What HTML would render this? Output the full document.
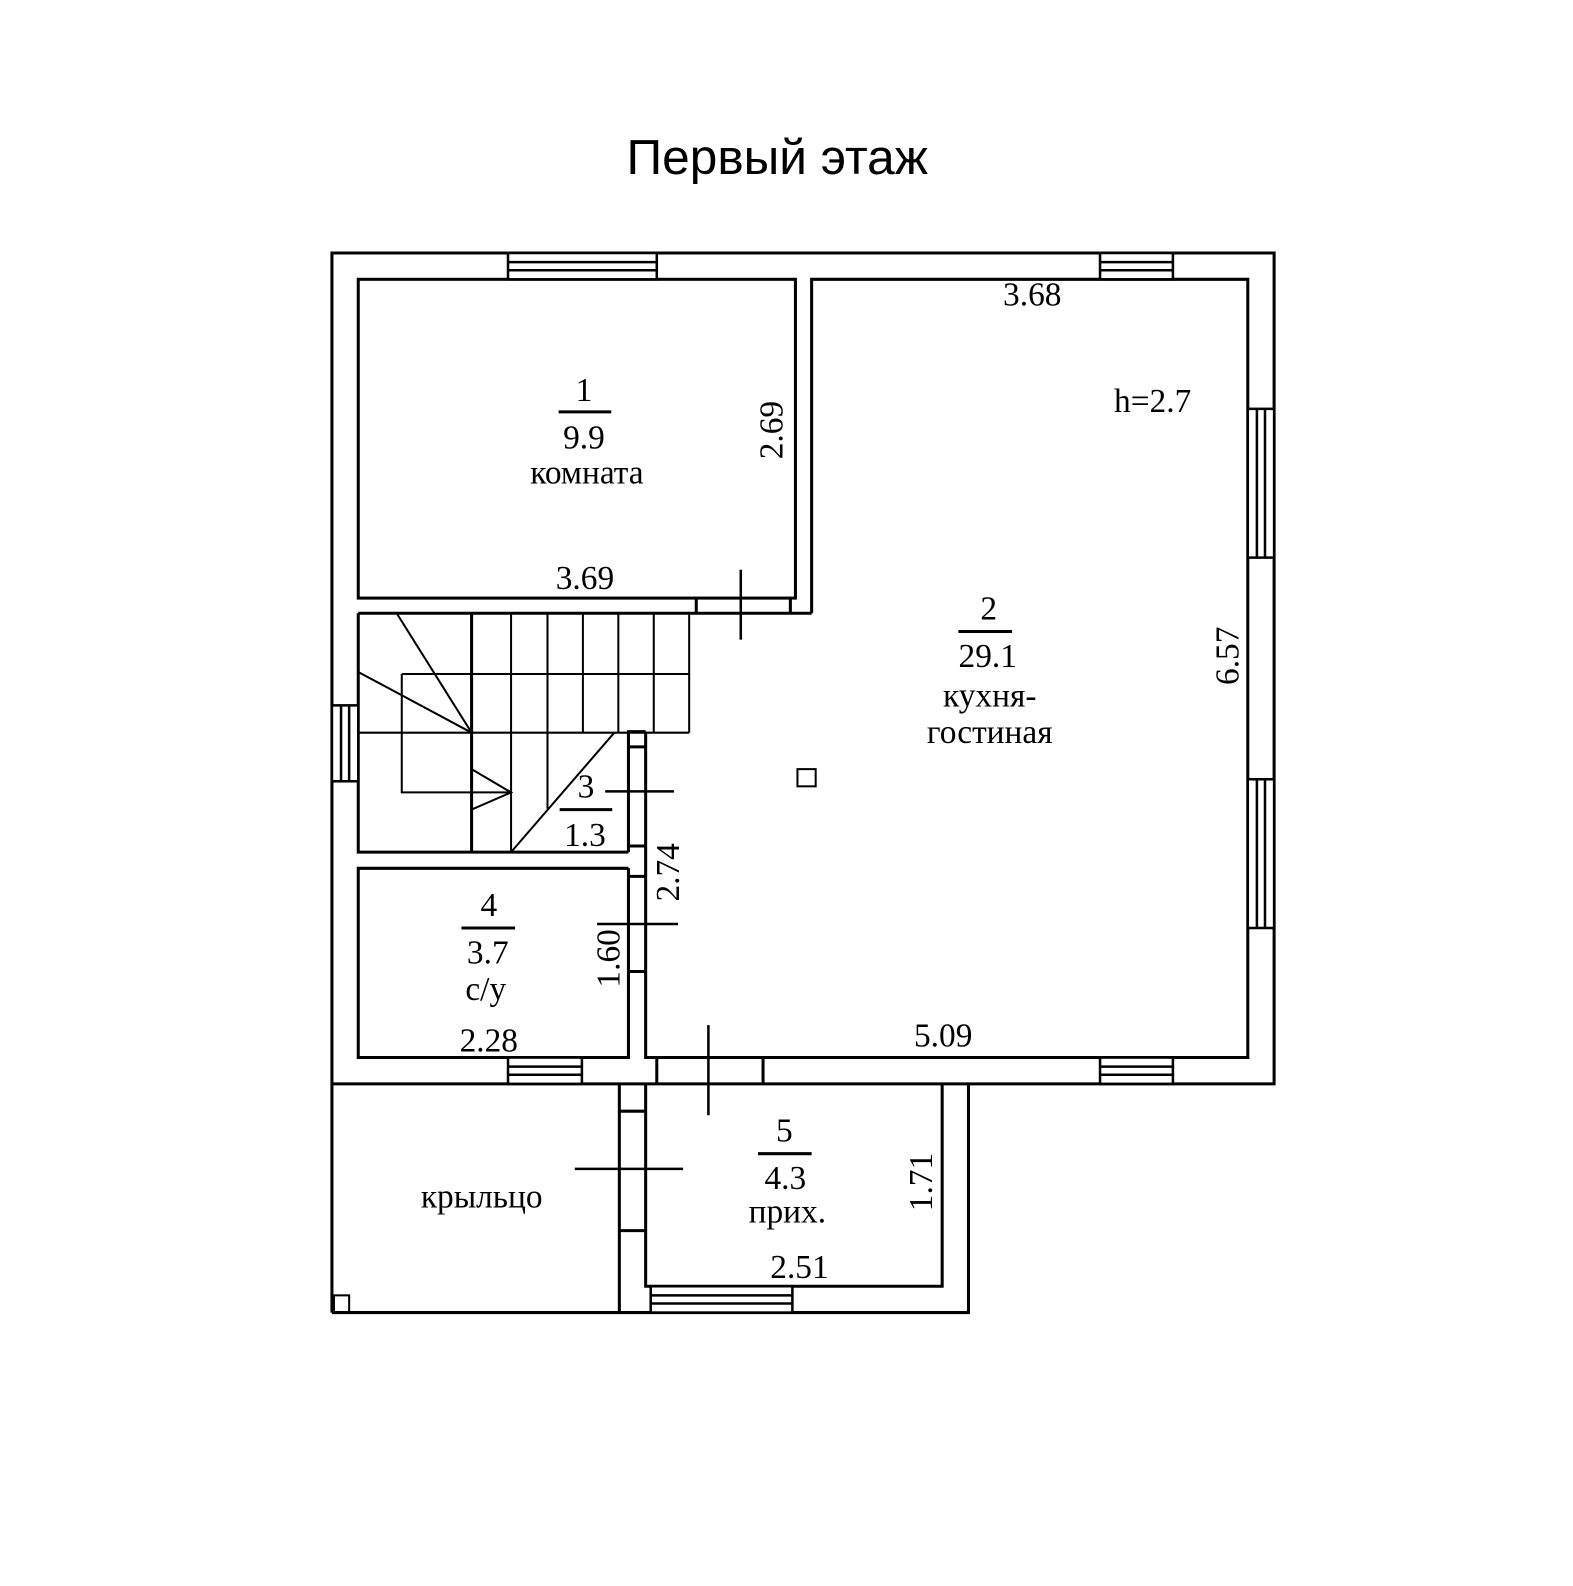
<!DOCTYPE html>
<html><head><meta charset="utf-8"><style>body{margin:0;background:#fff}</style></head><body>
<svg width="1573" height="1581" viewBox="0 0 1573 1581" xmlns="http://www.w3.org/2000/svg">
<rect width="1573" height="1581" fill="#fff"/>
<g transform="scale(1.012)">
<text x="768" y="172" font-family="Liberation Sans, sans-serif" font-size="49" text-anchor="middle">Первый этаж</text>
<g stroke="#000" stroke-width="3" fill="none">
<polyline points="328,1297 328,250 1259,250 1259,1071 957,1071 957,1297 328,1297"/>
<line x1="328" y1="1071" x2="957" y2="1071"/>
<rect x="354" y="276" width="432" height="315"/>
<polyline points="802,606 802,276 1233,276 1233,1045 638,1045 638,723"/>
<line x1="354" y1="606" x2="802" y2="606"/>
<line x1="688" y1="591" x2="688" y2="606"/>
<line x1="781" y1="591" x2="781" y2="606"/>
<polyline points="354,606 354,842 621,842"/>
<polyline points="621,842 621,723 638,723"/>
<line x1="621" y1="738" x2="638" y2="738"/>
<line x1="621" y1="836" x2="638" y2="836"/>
<polyline points="621,858 354,858 354,1045 621,1045 621,858"/>
<line x1="621" y1="866" x2="638" y2="866"/>
<line x1="621" y1="960" x2="638" y2="960"/>
<line x1="649" y1="1045" x2="649" y2="1071"/>
<line x1="754" y1="1045" x2="754" y2="1071"/>
<polyline points="638,1071 638,1271 931,1271 931,1071"/>
<line x1="612" y1="1071" x2="612" y2="1297"/>
<line x1="612" y1="1098" x2="638" y2="1098"/>
<line x1="612" y1="1216" x2="638" y2="1216"/>
<rect x="330" y="1280" width="15" height="17" stroke-width="2"/>
<line x1="732" y1="563" x2="732" y2="632" stroke-width="2.5"/>
<line x1="598" y1="782" x2="666" y2="782" stroke-width="2.5"/>
<line x1="590" y1="913" x2="670" y2="913" stroke-width="2.5"/>
<line x1="700" y1="1013" x2="700" y2="1102" stroke-width="2.5"/>
<line x1="568" y1="1155" x2="675" y2="1155" stroke-width="2.5"/>
<rect x="788" y="760" width="18" height="17" stroke-width="2"/>
</g>
<g stroke="#000" stroke-width="2.5" fill="#fff">
<rect x="502" y="250" width="147" height="26"/><line x1="502" y1="259" x2="649" y2="259"/><line x1="502" y1="267" x2="649" y2="267"/>
<rect x="1087" y="250" width="72" height="26"/><line x1="1087" y1="259" x2="1159" y2="259"/><line x1="1087" y1="267" x2="1159" y2="267"/>
<rect x="1233" y="404" width="26" height="147"/><line x1="1242" y1="404" x2="1242" y2="551"/><line x1="1250" y1="404" x2="1250" y2="551"/>
<rect x="1233" y="770" width="26" height="147"/><line x1="1242" y1="770" x2="1242" y2="917"/><line x1="1250" y1="770" x2="1250" y2="917"/>
<rect x="328" y="697" width="26" height="75"/><line x1="337" y1="697" x2="337" y2="772"/><line x1="345" y1="697" x2="345" y2="772"/>
<rect x="502" y="1045" width="73" height="26"/><line x1="502" y1="1054" x2="575" y2="1054"/><line x1="502" y1="1062" x2="575" y2="1062"/>
<rect x="1087" y="1045" width="72" height="26"/><line x1="1087" y1="1054" x2="1159" y2="1054"/><line x1="1087" y1="1062" x2="1159" y2="1062"/>
<rect x="643" y="1271" width="140" height="26"/><line x1="643" y1="1280" x2="783" y2="1280"/><line x1="643" y1="1288" x2="783" y2="1288"/>
</g>
<g stroke="#000" stroke-width="2" fill="none">
<line x1="466" y1="606" x2="466" y2="842" stroke-width="3"/>
<line x1="505" y1="606" x2="505" y2="842"/>
<line x1="541" y1="606" x2="541" y2="799"/>
<line x1="576" y1="606" x2="576" y2="724"/>
<line x1="611" y1="606" x2="611" y2="724"/>
<line x1="646" y1="606" x2="646" y2="724"/>
<line x1="681" y1="606" x2="681" y2="724"/>
<line x1="354" y1="724" x2="681" y2="724"/>
<line x1="397" y1="666" x2="681" y2="666"/>
<polyline points="397,666 397,783 505,783"/>
<line x1="392" y1="606" x2="466" y2="724"/>
<line x1="354" y1="664" x2="466" y2="724"/>
<line x1="607" y1="724" x2="505" y2="842"/>
<polyline points="466,760 505,783 466,800"/>
</g>
<g font-family="Liberation Serif, serif" font-size="33" text-anchor="middle" fill="#000">
<text x="577" y="396">1</text><text x="577" y="443">9.9</text><text x="580" y="478">комната</text>
<text x="578" y="582">3.69</text><text x="1020" y="302">3.68</text><text x="1139" y="407">h=2.7</text>
<text x="977" y="612">2</text><text x="976" y="659">29.1</text><text x="978" y="698">кухня-</text><text x="978" y="734">гостиная</text>
<text x="579" y="788">3</text><text x="578" y="836">1.3</text>
<text x="483" y="905">4</text><text x="482" y="952">3.7</text><text x="480" y="988">с/у</text>
<text x="483" y="1039">2.28</text><text x="932" y="1034">5.09</text>
<text x="775" y="1128">5</text><text x="776" y="1175">4.3</text><text x="778" y="1208">прих.</text>
<text x="790" y="1263">2.51</text><text x="476" y="1193">крыльцо</text>
<text transform="translate(773,425) rotate(-90)">2.69</text>
<text transform="translate(1224,648) rotate(-90)">6.57</text>
<text transform="translate(671,862) rotate(-90)">2.74</text>
<text transform="translate(612,947) rotate(-90)">1.60</text>
<text transform="translate(921,1168) rotate(-90)">1.71</text>
</g>
<g stroke="#000" stroke-width="3">
<line x1="552" y1="407" x2="604" y2="407"/>
<line x1="947" y1="624" x2="1000" y2="624"/>
<line x1="553" y1="800" x2="605" y2="800"/>
<line x1="456" y1="917" x2="509" y2="917"/>
<line x1="749" y1="1140" x2="802" y2="1140"/>
</g>
</g>
</svg>
</body></html>
